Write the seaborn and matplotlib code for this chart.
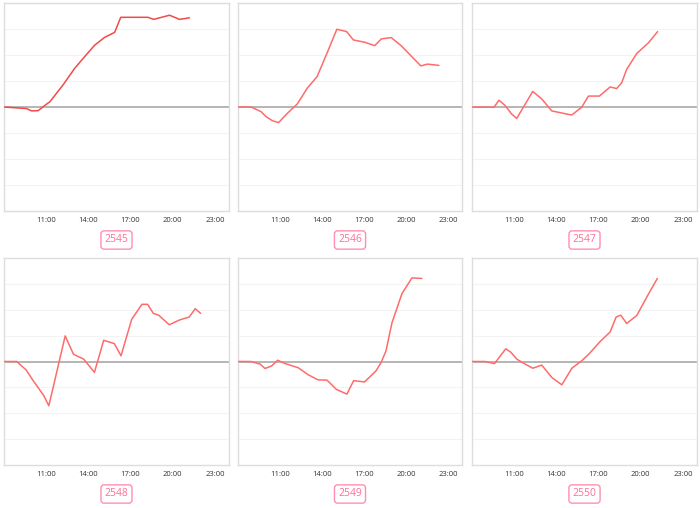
import numpy as np
import pandas as pd
import seaborn as sns
import matplotlib.pyplot as plt
from matplotlib.patches import FancyBboxPatch

# station ids under each panel
stations = ["2545", "2546", "2547", "2548", "2549", "2550"]

# hours of day (decimal) and values
hours_2545 = [8.0, 9.6, 9.96, 10.43, 11.0, 11.26, 12.2, 13.03, 13.74, 14.45, 15.16, 15.87, 16.3, 18.23, 18.64, 19.77, 20.48, 21.19]
vals_2545 = [0.0, -0.06, -0.15, -0.14, 0.1, 0.2, 0.85, 1.49, 1.94, 2.38, 2.68, 2.87, 3.45, 3.45, 3.37, 3.53, 3.37, 3.43]

hours_2546 = [8.0, 8.94, 9.65, 10.0, 10.47, 10.9, 11.53, 12.24, 12.94, 13.65, 14.35, 15.06, 15.76, 16.24, 17.06, 17.76, 18.24, 18.94, 19.65, 21.06, 21.53, 22.35]
vals_2546 = [0.0, 0.0, -0.18, -0.37, -0.53, -0.6, -0.24, 0.12, 0.72, 1.17, 2.06, 2.99, 2.9, 2.58, 2.49, 2.36, 2.62, 2.67, 2.36, 1.58, 1.65, 1.6]

hours_2547 = [8.0, 9.56, 9.92, 10.35, 10.82, 11.18, 12.32, 12.96, 13.67, 15.09, 15.8, 16.28, 17.06, 17.82, 18.29, 18.65, 19.0, 19.72, 20.55, 21.2]
vals_2547 = [0.0, -0.01, 0.26, 0.06, -0.27, -0.44, 0.6, 0.31, -0.15, -0.31, -0.01, 0.42, 0.42, 0.77, 0.71, 0.94, 1.45, 2.06, 2.47, 2.9]

hours_2548 = [8.0, 8.9, 9.58, 10.05, 10.83, 11.19, 12.35, 12.94, 13.67, 14.43, 15.09, 15.85, 16.32, 17.08, 17.81, 18.21, 18.62, 19.0, 19.75, 20.46, 21.17, 21.6, 21.98]
vals_2548 = [0.0, 0.0, -0.33, -0.72, -1.32, -1.71, 0.99, 0.28, 0.09, -0.42, 0.82, 0.69, 0.22, 1.63, 2.21, 2.21, 1.86, 1.79, 1.42, 1.6, 1.72, 2.04, 1.86]

hours_2549 = [8.0, 8.92, 9.58, 9.93, 10.41, 10.83, 11.36, 12.3, 13.01, 13.72, 14.36, 15.03, 15.78, 16.26, 17.04, 17.86, 18.22, 18.57, 19.0, 19.71, 20.42, 21.13]
vals_2549 = [0.0, 0.0, -0.1, -0.27, -0.17, 0.05, -0.08, -0.24, -0.51, -0.71, -0.72, -1.08, -1.26, -0.74, -0.79, -0.36, -0.04, 0.41, 1.5, 2.62, 3.23, 3.21]

hours_2550 = [8.0, 8.93, 9.6, 10.4, 10.76, 11.19, 11.78, 12.32, 12.96, 13.68, 14.39, 15.1, 15.81, 16.35, 17.11, 17.82, 18.25, 18.58, 19.0, 19.72, 20.43, 21.18]
vals_2550 = [0.0, 0.0, -0.08, 0.49, 0.36, 0.09, -0.1, -0.26, -0.14, -0.62, -0.9, -0.26, 0.03, 0.31, 0.77, 1.14, 1.72, 1.79, 1.47, 1.78, 2.49, 3.21]

tick_hours = [11, 14, 17, 20, 23]
tick_labels = ["11:00", "14:00", "17:00", "20:00", "23:00"]

series = [
    (hours_2545, vals_2545),
    (hours_2546, vals_2546),
    (hours_2547, vals_2547),
    (hours_2548, vals_2548),
    (hours_2549, vals_2549),
    (hours_2550, vals_2550),
]
line_colors = ["#f24a4a", "#ff6b6b", "#ff6b6b", "#ff6b6b", "#ff6b6b", "#ff6b6b"]

sns.set_theme(style="white")
plt.rcParams["font.family"] = ["Open Sans", "DejaVu Sans"]

fig = plt.figure(figsize=(7, 5.08), dpi=100)

W, H = 700, 508
lefts = [4, 238, 472]
widths = [225, 224, 225]
tops = [3, 258]
heights = [208, 207]

for i, (hrs, vals) in enumerate(series):
    r, c = divmod(i, 3)
    ax = fig.add_axes([lefts[c] / W, (H - tops[r] - heights[r]) / H,
                       widths[c] / W, heights[r] / H])
    df = pd.DataFrame({"hour": hrs, "value": vals})
    ax.axhline(0, color="#b0b0b0", lw=1.3, zorder=1)
    sns.lineplot(data=df, x="hour", y="value", ax=ax, color=line_colors[i],
                 lw=1.1, estimator=None, sort=False, zorder=3)
    ax.set_xlim(8, 24)
    ax.set_ylim(-4, 4)
    ax.set_yticks(np.arange(-3, 4, 1))
    ax.set_yticklabels([])
    ax.tick_params(axis="y", length=0)
    ax.grid(axis="y", color="#f3f3f3", lw=0.8)
    ax.set_xticks(tick_hours)
    ax.set_xticklabels(tick_labels)
    ax.tick_params(axis="x", labelsize=5.5, length=2, width=0.6, color="#cccccc",
                   pad=2, labelcolor="#333333")
    ax.set_xlabel("")
    ax.set_ylabel("")
    for sp in ax.spines.values():
        sp.set_color("#dddddd")
        sp.set_linewidth(1.0)

    # station label box under the panel
    cx = (lefts[c] + widths[c] / 2) / W
    cy = (H - tops[r] - heights[r] - 29) / H
    fig.text(cx, cy, stations[i], ha="center", va="center", fontsize=7.5,
             color="#ff6f96",
             bbox=dict(boxstyle="round,pad=0.35,rounding_size=0.3",
                       fc="white", ec="#ff8fb0", lw=1.0))

fig.savefig("out.png", dpi=100)
